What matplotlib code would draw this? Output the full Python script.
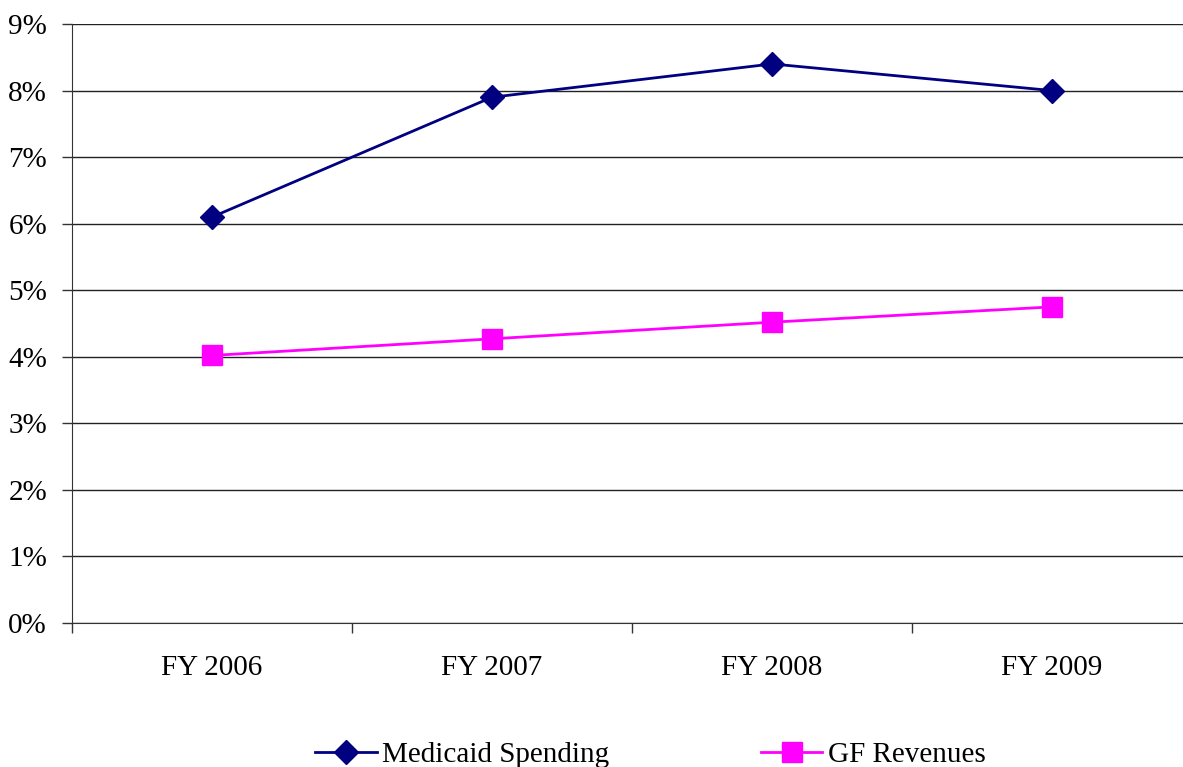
import matplotlib
matplotlib.use("Agg")
import matplotlib.pyplot as plt
from matplotlib.ticker import FixedLocator, PercentFormatter

years = ["FY 2006", "FY 2007", "FY 2008", "FY 2009"]
medicaid = [6.1, 7.9, 8.4, 8.0]
gf_revenues = [4.02, 4.27, 4.52, 4.75]

plt.rcParams["font.family"] = ["Liberation Serif", "DejaVu Serif"]
plt.rcParams["font.size"] = 21

fig = plt.figure(figsize=(11.83, 7.67), dpi=100)
ax = fig.add_axes([0.0609, 0.1877, 0.9467, 0.781])

x = list(range(len(years)))
ax.plot(x, medicaid, color="#000080", lw=2.0, marker="D", ms=12.5,
        label="Medicaid Spending", zorder=3)
ax.plot(x, gf_revenues, color="#FF00FF", lw=2.0, marker="s", ms=15,
        label="GF Revenues", zorder=3)

ax.set_xlim(-0.5, len(years) - 0.5)
ax.set_ylim(0, 9)
ax.set_yticks(range(0, 10))
ax.yaxis.set_major_formatter(PercentFormatter(decimals=0))
ax.yaxis.grid(True, color="#222222", lw=1)
ax.set_axisbelow(True)

ax.set_xticks(x)
ax.set_xticklabels(years)
ax.xaxis.set_minor_locator(FixedLocator([i - 0.5 for i in range(len(years) + 1)]))
ax.tick_params(axis="x", which="major", length=0, pad=23)
ax.tick_params(axis="x", which="minor", length=7, width=1, color="#333333")
ax.tick_params(axis="y", length=7, width=1, color="#333333", pad=11)

for side in ["top", "right"]:
    ax.spines[side].set_visible(False)
ax.spines["left"].set_color("#333333")
ax.spines["bottom"].set_color("#333333")

fig.legend(loc="center", bbox_to_anchor=(0.55, 0.016), ncol=2, frameon=False,
           handlelength=2.1, handletextpad=0.2, columnspacing=5.2,
           fontsize=21)

fig.savefig("out.png", dpi=100)
